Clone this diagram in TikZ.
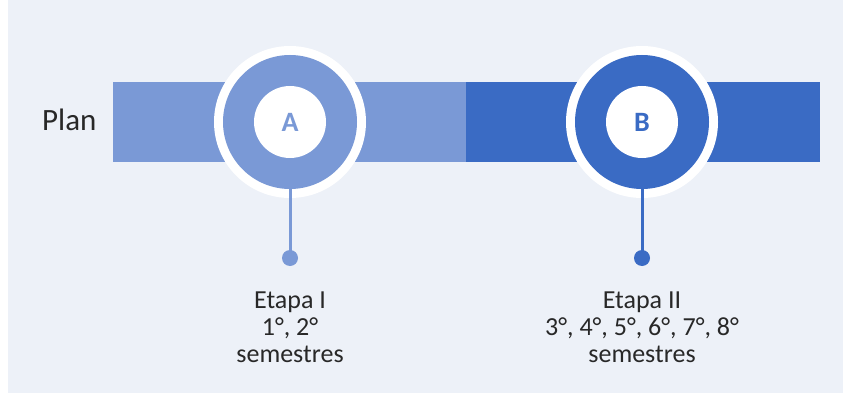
\documentclass[tikz,border=0pt]{standalone}
\usepackage{fontspec}
\setmainfont{Carlito}
\definecolor{bgc}{RGB}{237,241,248}
\definecolor{lightb}{RGB}{122,153,214}
\definecolor{darkb}{RGB}{58,107,196}
\definecolor{txt}{RGB}{40,40,40}
\tikzset{
  halo/.style={circle, fill=white, minimum size=152pt, inner sep=0pt},
  disk/.style={circle, fill=#1, minimum size=134pt, inner sep=0pt},
  hub/.style={circle, fill=white, minimum size=72pt, inner sep=0pt, text=#1,
    font=\fontsize{28}{28}\selectfont\bfseries},
  dotn/.style={circle, fill=#1, minimum size=16pt, inner sep=0pt},
  stem/.style={draw=#1, line width=3pt},
  lbl/.style={align=center, text=txt, font=\fontsize{26}{27}\selectfont, anchor=north}
}
\begin{document}
\begin{tikzpicture}[x=1pt,y=-1pt]
\useasboundingbox (0,0) rectangle (843,401);
\fill[white] (0,0) rectangle (843,401);
\fill[bgc] (8,0) rectangle (843,393);
% bar
\fill[lightb] (113,82) rectangle (466,162);
\fill[darkb] (466,82) rectangle (820,162);
\node[anchor=base west, text=txt, font=\fontsize{31}{31}\selectfont, inner sep=0pt] (plan) at (42,131) {Plan};
% circle A
\node[halo] (hA) at (290,122) {};
\node[disk=lightb] (A) at (290,122) {};
\node[dotn=lightb] (dA) at (290,258) {};
\draw[stem=lightb] (A.south) -- (dA.center);
\node[hub=lightb] (iA) at (290,122) {A};
% circle B
\node[halo] (hB) at (642,122) {};
\node[disk=darkb] (B) at (642,122) {};
\node[dotn=darkb] (dB) at (642,258) {};
\draw[stem=darkb] (B.south) -- (dB.center);
\node[hub=darkb] (iB) at (642,122) {B};
% labels
\node[lbl] (lA) at (290,288) {Etapa I\\1°, 2°\\semestres};
\node[lbl] (lB) at (642,288) {Etapa II\\3°, 4°, 5°, 6°, 7°, 8°\\semestres};
\end{tikzpicture}
\end{document}
